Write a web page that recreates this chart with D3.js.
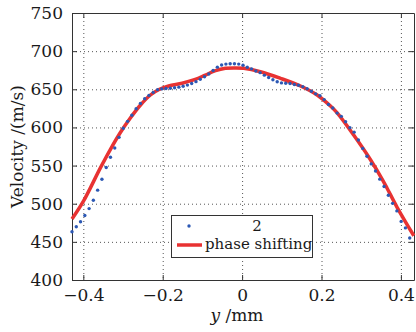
<!DOCTYPE html>
<html>
<head>
<meta charset="utf-8">
<script src="https://cdn.jsdelivr.net/npm/d3@7"></script>
<style>
  body { margin: 0; background: #fff; }
  .grid line { stroke: #555; stroke-width: 1; stroke-dasharray: 1,3; }
  .axis path, .axis line { stroke: #333; }
</style>
</head>
<body>
<div id="chart"></div>
<script>
// series "2" (blue dots), y position in mm and velocity in m/s
var dotY = [-0.4285, -0.4177, -0.4070, -0.3962, -0.3854, -0.3747, -0.3639, -0.3531, -0.3423, -0.3316,
  -0.3208, -0.3100, -0.2993, -0.2885, -0.2777, -0.2670, -0.2562, -0.2454, -0.2347, -0.2239,
  -0.2131, -0.2024, -0.1916, -0.1808, -0.1701, -0.1593, -0.1485, -0.1378, -0.1270, -0.1162,
  -0.1054, -0.0947, -0.0839, -0.0731, -0.0624, -0.0516, -0.0408, -0.0301, -0.0193, -0.0085,
  0.0023, 0.0130, 0.0238, 0.0346, 0.0453, 0.0561, 0.0669, 0.0776, 0.0884, 0.0992,
  0.1099, 0.1207, 0.1315, 0.1422, 0.1530, 0.1638, 0.1745, 0.1853, 0.1961, 0.2068,
  0.2176, 0.2284, 0.2392, 0.2499, 0.2607, 0.2715, 0.2822, 0.2930, 0.3038, 0.3145,
  0.3253, 0.3361, 0.3468, 0.3576, 0.3684, 0.3791, 0.3899, 0.4007, 0.4114, 0.4222];
var dotV = [463.3, 469.9, 476.4, 484.6, 493.6, 504.6, 517.8, 532.0, 547.5, 561.0,
  573, 587, 599, 608, 616, 624.5, 631.5, 637.5, 642, 646,
  649.5, 650.5, 651, 651.3, 652, 652.8, 654, 655.5, 657.5, 660,
  663.2, 666.5, 670, 674.7, 679, 681.8, 683, 683.4, 683.4, 683,
  681.6, 678.8, 676.8, 674, 671.8, 668.5, 665.5, 662.5, 659.8, 658.4,
  658, 657.6, 656.3, 655.2, 653.5, 650.8, 647.4, 644, 641.5, 636.5,
  630, 625.5, 618.8, 614.5, 607.5, 599.5, 593.8, 583.5, 572.5, 562.2,
  552.2, 542.9, 532.2, 522.6, 511, 500.5, 490.6, 476.8, 468.3, 455];

// series "phase shifting" (red line)
var lineY = [-0.4285, -0.400, -0.357, -0.332, -0.307, -0.282, -0.256, -0.231, -0.208, -0.185,
  -0.151, -0.118, -0.0925, -0.067, -0.042, -0.017, 0.004, 0.046, 0.0965, 0.147,
  0.189, 0.2226, 0.2395, 0.281, 0.323, 0.353, 0.3655, 0.3907, 0.4326];
var lineV = [480, 503, 547, 571, 593, 612, 629.4, 642.5, 650, 654.3,
  658, 663, 668.7, 674.4, 677.5, 678, 677.5, 673, 664.4, 654.3,
  642.5, 628, 619, 590, 558, 532, 520, 495, 458];

var xTicks = [-0.4, -0.2, 0, 0.2, 0.4];
var yTicks = [400, 450, 500, 550, 600, 650, 700, 750];
var legendLabels = ['2', 'phase shifting'];

var width = 416, height = 332;
var margin = { left: 72, right: 2, top: 13, bottom: 52 };
var serif = 'DejaVu Serif';

var svg = d3.select('#chart').append('svg')
  .attr('width', width)
  .attr('height', height)
  .attr('font-family', serif);

var x = d3.scaleLinear().domain([-0.4285, 0.433]).range([margin.left, width - margin.right]);
var y = d3.scaleLinear().domain([400, 750]).range([height - margin.bottom, margin.top]);

var fmtX = function (d) { return d === 0 ? '0' : d3.format('.1f')(d); };

// grid
var grid = svg.append('g').attr('class', 'grid');
grid.selectAll('.gx')
  .data(xTicks).enter()
  .append('line')
  .attr('x1', d => x(d) + 0.5).attr('x2', d => x(d) + 0.5)
  .attr('y1', y(750)).attr('y2', y(400));
grid.selectAll('.gy')
  .data(yTicks.slice(1, -1)).enter()
  .append('line')
  .attr('y1', d => y(d) + 0.5).attr('y2', d => y(d) + 0.5)
  .attr('x1', x.range()[0]).attr('x2', x.range()[1]);

// axes, ticks pointing inward on all four sides
svg.append('g')
  .attr('class', 'axis')
  .attr('transform', 'translate(0,' + y(400) + ')')
  .call(d3.axisBottom(x).tickValues(xTicks).tickFormat(fmtX).tickSize(-5).tickSizeOuter(0).tickPadding(9));
svg.append('g')
  .attr('class', 'axis')
  .attr('transform', 'translate(' + x.range()[0] + ',0)')
  .call(d3.axisLeft(y).tickValues(yTicks).tickSize(-5).tickSizeOuter(0).tickPadding(9));
svg.append('g')
  .attr('class', 'axis')
  .attr('transform', 'translate(0,' + y(750) + ')')
  .call(d3.axisTop(x).tickValues(xTicks).tickFormat('').tickSize(-5).tickSizeOuter(0));
svg.append('g')
  .attr('class', 'axis')
  .attr('transform', 'translate(' + x.range()[1] + ',0)')
  .call(d3.axisRight(y).tickValues(yTicks).tickFormat('').tickSize(-5).tickSizeOuter(0));

svg.selectAll('.axis').attr('font-family', serif).attr('font-size', 17);
svg.selectAll('.axis text').attr('fill', '#1a1a1a');

// red line
var line = d3.line()
  .x((d, i) => x(lineY[i]))
  .y(d => y(d))
  .curve(d3.curveCatmullRom);

svg.append('path')
  .datum(lineV)
  .attr('d', line)
  .attr('fill', 'none')
  .attr('stroke', '#e83232')
  .attr('stroke-width', 3.5);

// blue dots
svg.append('g')
  .selectAll('circle')
  .data(dotV).enter()
  .append('circle')
  .attr('cx', (d, i) => x(dotY[i]))
  .attr('cy', d => y(d))
  .attr('r', 1.7)
  .attr('fill', '#2c58b4');

// axis titles
svg.append('text')
  .attr('transform', 'translate(23,' + ((y(400) + y(750)) / 2) + ') rotate(-90)')
  .attr('text-anchor', 'middle')
  .attr('font-size', 17)
  .attr('fill', '#1a1a1a')
  .text('Velocity /(m/s)');

var xt = svg.append('text')
  .attr('x', 237)
  .attr('y', 321)
  .attr('text-anchor', 'middle')
  .attr('font-size', 17)
  .attr('fill', '#1a1a1a');
xt.append('tspan').attr('font-style', 'italic').text('y');
xt.append('tspan').text(' /mm');

// legend
var legend = svg.append('g');
legend.append('rect')
  .attr('x', 171.5).attr('y', 215.5)
  .attr('width', 141).attr('height', 42)
  .attr('fill', '#fff')
  .attr('stroke', '#333');
legend.append('circle')
  .attr('cx', 189).attr('cy', 226)
  .attr('r', 1.7)
  .attr('fill', '#2c58b4');
legend.append('text')
  .attr('x', 257).attr('y', 231)
  .attr('text-anchor', 'middle')
  .attr('font-size', 15)
  .attr('fill', '#1a1a1a')
  .text(legendLabels[0]);
legend.append('line')
  .attr('x1', 177).attr('x2', 202)
  .attr('y1', 245).attr('y2', 245)
  .attr('stroke', '#e83232')
  .attr('stroke-width', 3.5);
legend.append('text')
  .attr('x', 205).attr('y', 249)
  .attr('font-size', 15)
  .attr('fill', '#1a1a1a')
  .text(legendLabels[1]);
</script>
</body>
</html>
